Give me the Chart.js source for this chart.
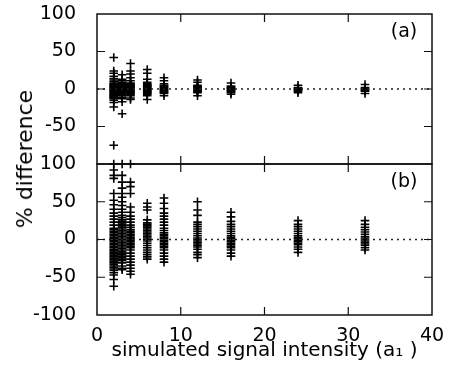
<!DOCTYPE html>
<html>
<head>
<meta charset="utf-8">
<script src="https://cdn.jsdelivr.net/npm/chart.js@4.4.0/dist/chart.umd.min.js"></script>
<style>
  html, body { margin: 0; padding: 0; background: #fff; }
  #wrap { position: relative; width: 450px; height: 371px; overflow: hidden; }
  #wrap canvas { position: absolute; left: 0; top: 0; }
  .lbl { position: absolute; font-family: 'DejaVu Sans', sans-serif; color: #000; white-space: nowrap; line-height: 1; }
  #ytitle { left: 25px; top: 159px; font-size: 22px; transform: translate(-50%, -50%) rotate(-90deg); }
  #tagA { left: 404px; top: 30px; font-size: 19px; transform: translate(-50%, -50%); }
  #tagB { left: 404px; top: 180px; font-size: 19px; transform: translate(-50%, -50%); }
</style>
</head>
<body>
<div id="wrap">
  <canvas id="panelA" width="450" height="371"></canvas>
  <canvas id="panelB" width="450" height="371"></canvas>
  <div class="lbl" id="ytitle">% difference</div>
  <div class="lbl" id="tagA">(a)</div>
  <div class="lbl" id="tagB">(b)</div>
</div>
<script>
// simulated intensities (a1) where the runs were made
const intensities = [2, 3, 4, 6, 8, 12, 16, 24, 32];

// panel (a): % difference per intensity
const diffA_2 = [42, 24, 21, 17, 14, 12, 10, 8, 7, 6, 5, 4, 3, 2, 1, 0, -1, -2, -3, -4, -5, -6, -7, -8, -9, -10, -11, -12, -13, -15, -18, -24, -75];
const diffA_3 = [19, 13, 11, 9, 8, 7, 6, 5, 4, 3, 2, 1, 0, -1, -2, -3, -4, -5, -6, -7, -9, -11, -13, -17, -33];
const diffA_4 = [34, 24, 20, 15, 11, 8, 7, 6, 5, 4, 3, 2, 1, 0, -1, -2, -3, -4, -5, -6, -7, -9, -12, -14];
const diffA_6 = [26, 21, 13, 9, 7, 6, 5, 4, 3, 2, 1, 0, -1, -2, -3, -4, -5, -6, -7, -9, -14];
const diffA_8 = [15, 11, 7, 5, 4, 3, 2, 1, 0, -1, -2, -3, -4, -5, -6, -9];
const diffA_12 = [12, 9, 5, 4, 3, 2, 1, 0, -1, -2, -3, -4, -5, -9];
const diffA_16 = [8, 4, 3, 2, 1, 0, -1, -2, -3, -4, -5, -7];
const diffA_24 = [5, 2, 1, 0, -1, -2, -3, -5];
const diffA_32 = [6, 2, 1, 0, -1, -2, -3, -6];

// panel (b)
const diffB_2 = [100, 92, 85, 81, 61, 52, 46, 40, 35, 31, 27, 23, 19, 15, 13, 11, 9, 7, 5, 3, 1, -1, -3, -5, -7, -9, -11, -13, -15, -17, -19, -21, -23, -25, -27, -29, -31, -33, -35, -37, -39, -41, -44, -47, -53, -62];
const diffB_3 = [100, 85, 76, 68, 61, 56, 50, 45, 40, 36, 32, 29, 26, 24, 22, 20, 18, 16, 14, 12, 10, 8, 6, 4, 2, 0, -2, -4, -6, -8, -10, -12, -14, -16, -18, -20, -22, -24, -26, -28, -31, -35, -38, -40];
const diffB_4 = [100, 76, 70, 61, 43, 36, 31, 27, 23, 19, 16, 13, 11, 9, 7, 5, 3, 1, -1, -3, -5, -7, -9, -11, -14, -18, -22, -26, -30, -34, -38, -42, -46];
const diffB_6 = [48, 43, 39, 26, 22, 20, 18, 16, 14, 12, 10, 8, 6, 4, 2, 0, -2, -5, -8, -11, -14, -17, -20, -23, -26];
const diffB_8 = [55, 48, 41, 35, 31, 27, 23, 19, 15, 12, 9, 7, 5, 3, 1, -1, -3, -5, -7, -9, -11, -14, -18, -22, -26, -30];
const diffB_12 = [50, 39, 32, 23, 20, 17, 14, 11, 8, 5, 2, 0, -2, -4, -6, -8, -10, -13, -17, -20, -24];
const diffB_16 = [36, 30, 24, 20, 17, 14, 11, 8, 5, 3, 1, -1, -3, -5, -7, -9, -11, -14, -18, -22];
const diffB_24 = [25, 20, 17, 14, 11, 8, 5, 3, 1, -1, -3, -5, -7, -10, -13, -17];
const diffB_32 = [25, 20, 16, 13, 10, 7, 4, 2, 0, -2, -4, -6, -8, -11, -14];

const zeroLineX = [0, 40];
const zeroLineY = [0, 0];
const xTickValues = [10, 20, 30];
const yTickValues = [-50, 0, 50];

const colsA = [diffA_2, diffA_3, diffA_4, diffA_6, diffA_8, diffA_12, diffA_16, diffA_24, diffA_32];
const colsB = [diffB_2, diffB_3, diffB_4, diffB_6, diffB_8, diffB_12, diffB_16, diffB_24, diffB_32];

const FONT = 'DejaVu Sans';

function toPoints(cols) {
    const pts = [];
    cols.forEach((vals, i) => vals.forEach(v => pts.push({ x: intensities[i], y: v })));
    return pts;
}

// box round the plot area, with the small inward ticks
const framePlugin = {
    id: 'frame',
    afterDatasetsDraw(chart) {
        const { ctx, chartArea: a, scales } = chart;
        ctx.save();
        ctx.strokeStyle = '#111';
        ctx.lineWidth = 1.5;
        ctx.strokeRect(a.left, a.top, a.right - a.left, a.bottom - a.top);
        ctx.lineWidth = 1.2;
        ctx.beginPath();
        xTickValues.forEach(v => {
            const px = scales.x.getPixelForValue(v);
            ctx.moveTo(px, a.top); ctx.lineTo(px, a.top + 8);
            ctx.moveTo(px, a.bottom); ctx.lineTo(px, a.bottom - 8);
        });
        yTickValues.forEach(v => {
            const py = scales.y.getPixelForValue(v);
            ctx.moveTo(a.left, py); ctx.lineTo(a.left + 8, py);
            ctx.moveTo(a.right, py); ctx.lineTo(a.right - 8, py);
        });
        ctx.stroke();
        ctx.restore();
    }
};

function makeDatasets(cols) {
    return [
        {
            type: 'line',
            data: zeroLineX.map((x, i) => ({ x: x, y: zeroLineY[i] })),
            borderColor: '#222',
            borderWidth: 1.3,
            borderDash: [2, 4],
            pointRadius: 0,
            clip: false
        },
        {
            type: 'scatter',
            data: toPoints(cols),
            pointStyle: 'cross',
            pointRadius: 4.3,
            pointHoverRadius: 4.3,
            borderColor: '#000',
            borderWidth: 1.6,
            clip: false
        }
    ];
}

function yScale(hideBottom) {
    return {
        min: -100, max: 100,
        ticks: {
            stepSize: 50, padding: 13, color: '#000',
            font: { family: FONT, size: 19 },
            callback: v => (hideBottom && v === -100) ? '' : v
        },
        grid: { display: false },
        border: { display: false },
        afterFit: s => { s.width = 97; s.paddingTop = 0; s.paddingBottom = 0; }
    };
}

new Chart(document.getElementById('panelA').getContext('2d'), {
    type: 'scatter',
    data: { datasets: makeDatasets(colsA) },
    options: {
        responsive: false, animation: false, devicePixelRatio: 1,
        layout: { padding: { left: 0, top: 14, right: 18, bottom: 207 } },
        plugins: { legend: { display: false }, tooltip: { enabled: false } },
        scales: {
            x: { type: 'linear', min: 0, max: 40, display: false },
            y: yScale(true)
        }
    },
    plugins: [framePlugin]
});

new Chart(document.getElementById('panelB').getContext('2d'), {
    type: 'scatter',
    data: { datasets: makeDatasets(colsB) },
    options: {
        responsive: false, animation: false, devicePixelRatio: 1,
        layout: { padding: { left: 0, top: 164, right: 18, bottom: 0 } },
        plugins: { legend: { display: false }, tooltip: { enabled: false } },
        scales: {
            x: {
                type: 'linear', min: 0, max: 40,
                ticks: { stepSize: 10, padding: 2, color: '#000', maxRotation: 0, font: { family: FONT, size: 19 } },
                grid: { display: false },
                border: { display: false },
                title: {
                    display: true, text: 'simulated signal intensity (a₁ )', color: '#000',
                    font: { family: FONT, size: 20 }, padding: { top: 0, bottom: 8 }
                },
                afterFit: s => { s.height = 56; s.paddingLeft = 0; s.paddingRight = 0; }
            },
            y: yScale(false)
        }
    },
    plugins: [framePlugin]
});
</script>
</body>
</html>
